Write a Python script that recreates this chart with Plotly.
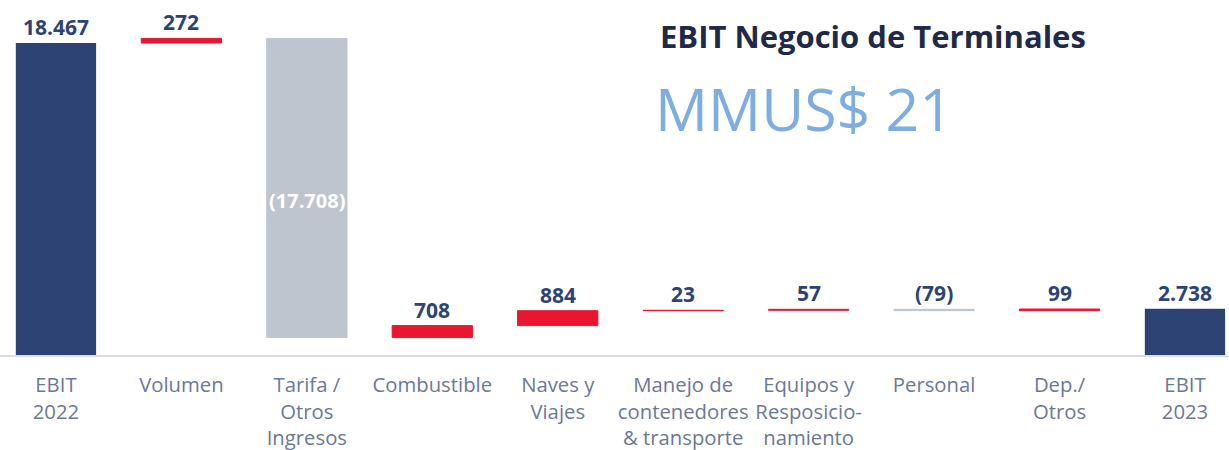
import plotly.graph_objects as go

# data
categories = ["EBIT<br>2022", "Volumen", "Tarifa /<br>Otros<br>Ingresos", "Combustible",
              "Naves y<br>Viajes", "Manejo de<br>contenedores<br>& transporte",
              "Equipos y<br>Resposicio-<br>namiento", "Personal", "Dep./<br>Otros", "EBIT<br>2023"]
values = [18467, 272, -17708, 708, 884, 23, 57, -79, 99, 2738]
measures = ["absolute"] + ["relative"] * 8 + ["absolute"]

NAVY = "#2D4373"
RED = "#E8162F"
GRAY = "#BEC5CF"
LABEL = "#6B7897"


def fmt(v):
    s = "{:,}".format(abs(v)).replace(",", ".")
    return "(" + s + ")" if v < 0 else s


# level of each step, to put the number on top of the bar
tops = []
level = 0
for v, m in zip(values, measures):
    start = 0 if m == "absolute" else level
    end = v if m == "absolute" else level + v
    tops.append(max(start, end))
    level = end

xs = list(range(len(categories)))

fig = go.Figure()
fig.add_trace(go.Waterfall(
    x=xs, y=values, measure=measures,
    width=0.64,
    increasing=dict(marker=dict(color=RED, line=dict(color=RED, width=1))),
    decreasing=dict(marker=dict(color=GRAY, line=dict(color=GRAY, width=1))),
    totals=dict(marker=dict(color=NAVY, line=dict(color=NAVY, width=0))),
    connector=dict(visible=False),
    textinfo="none", hoverinfo="skip", showlegend=False))

# number labels above the bars (the big drop is labelled inside)
for x, v, t in zip(xs, values, tops):
    if v <= -10000:
        fig.add_annotation(x=x, y=t + v / 2, text="<b>" + fmt(v) + "</b>", showarrow=False,
                           xanchor="center", yanchor="middle", yshift=-12,
                           font=dict(family="Open Sans", size=20, color="white"))
    else:
        fig.add_annotation(x=x, y=t, text="<b>" + fmt(v) + "</b>", showarrow=False,
                           xanchor="center", yanchor="bottom", yshift=0,
                           font=dict(family="Open Sans", size=21, color=NAVY))

fig.add_annotation(text="<b>EBIT Negocio de Terminales</b>", xref="paper", yref="paper",
                   x=658 / 1229, y=1.0 - 36 / 355, xanchor="left", yanchor="middle", showarrow=False,
                   font=dict(family="Open Sans", size=31, color="#1E2A48"))
fig.add_annotation(text="MMUS$ 21", xref="paper", yref="paper",
                   x=653 / 1229, y=1.0 - 108 / 355, xanchor="left", yanchor="middle", showarrow=False,
                   font=dict(family="Open Sans", size=59, color="#7EAEDF"))

fig.update_layout(
    width=1229, height=450,
    margin=dict(l=0, r=0, t=0, b=95, autoexpand=False),
    paper_bgcolor="white", plot_bgcolor="white",
    font=dict(family="Open Sans"),
    xaxis=dict(range=[-0.446, 9.351], tickvals=xs, ticktext=categories,
               tickfont=dict(family="Open Sans", size=20.3, color=LABEL),
               showline=True, linecolor="#D9DEE5", linewidth=2, automargin=False,
               showgrid=False, zeroline=False, ticks="", ticklabelstandoff=11),
    yaxis=dict(range=[0, 21013], visible=False, showgrid=False, zeroline=False,
               automargin=False),
)

# the page's default body margin would push the figure 8px right and down
fig.write_html("out.html", config={"displayModeBar": False},
               post_script="document.body.style.margin='0';")
